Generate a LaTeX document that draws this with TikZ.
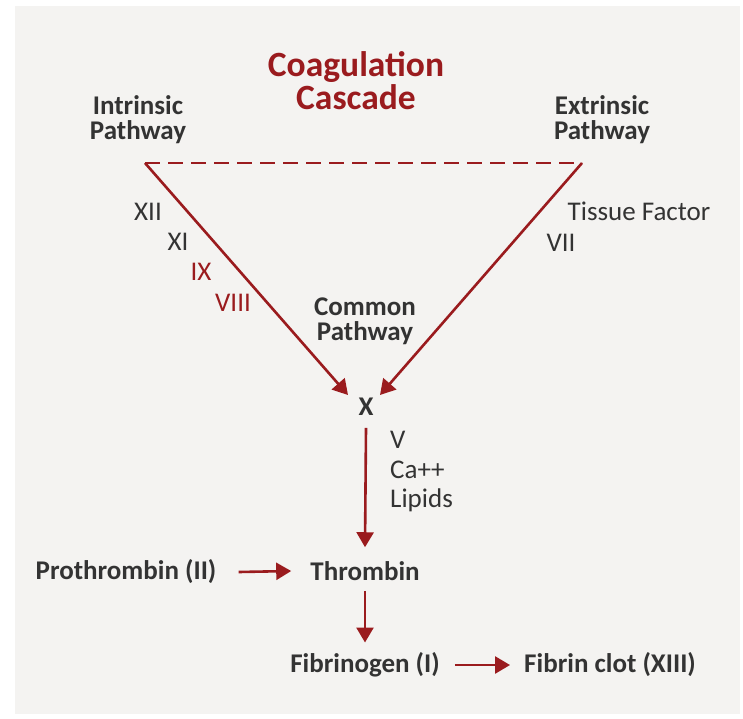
\documentclass[tikz,border=0pt]{standalone}
\usepackage{fontspec}
\setmainfont{Carlito}
\usetikzlibrary{arrows.meta}
\definecolor{cred}{HTML}{9A1B1E}
\definecolor{ctext}{HTML}{333333}
\definecolor{cbg}{HTML}{F4F3F1}
\tikzset{
  lbl/.style={text=ctext, font=\fontsize{27}{30}\selectfont, inner sep=0pt},
  blbl/.style={text=ctext, font=\bfseries\fontsize{27}{25}\selectfont, inner sep=0pt, align=center},
  rlbl/.style={text=cred, font=\fontsize{27}{30}\selectfont, inner sep=0pt},
  ttl/.style={text=cred, font=\bfseries\fontsize{35.5}{33}\selectfont, inner sep=0pt, align=center},
  arr/.style={draw=cred, line width=2.6pt, -{Triangle[length=15pt,width=17pt]}},
  dsh/.style={draw=cred, line width=2.6pt, dash pattern=on 15pt off 8pt}
}
\begin{document}
\begin{tikzpicture}[x=1pt,y=-1pt]
\useasboundingbox (0,0) rectangle (743,718);
\fill[white] (0,0) rectangle (743,718);
\fill[cbg] (15,6) rectangle (740,714);
% title
\node[ttl] (title) at (356,81) {Coagulation\\Cascade};
\node[blbl] (intr) at (138,120) {Intrinsic\\Pathway};
\node[blbl] (extr) at (602,120) {Extrinsic\\Pathway};
% triangle
\coordinate (tl) at (145,163);
\coordinate (tr) at (582,163);
\coordinate (tipL) at (348,395);
\coordinate (tipR) at (380,395);
\node[blbl] (x) at (366,407) {X};
\draw[dsh] (tl) -- (tr);
\draw[arr] (tl) -- (tipL);
\draw[arr] (tr) -- (tipR);
% labels
\node[lbl] (xii) at (148,212) {XII};
\node[lbl] (xi) at (178,242) {XI};
\node[rlbl] (ix) at (201,272) {IX};
\node[rlbl] (viii) at (233,303) {VIII};
\node[lbl] (tf) at (639,211) {Tissue Factor};
\node[lbl] (vii) at (561,243) {VII};
\node[blbl] (common) at (365,321) {Common\\Pathway};
% common
\node[lbl, anchor=west] (v) at (390,440) {V};
\node[lbl, anchor=west] (ca) at (390,470) {Ca++};
\node[lbl, anchor=west] (lip) at (390,500) {Lipids};
\node[blbl] (thr) at (365,571) {Thrombin};
\node[blbl] (pro) at (126,572) {Prothrombin (II)};
\node[blbl] (fgn) at (365,665) {Fibrinogen (I)};
\node[blbl] (fcl) at (610,665) {Fibrin clot (XIII)};
\draw[arr] ([yshift=-12pt]x.south) -- ([yshift=14pt]thr.north);
\draw[arr] ([xshift=22pt]pro.east) -- ([xshift=-19pt]thr.west);
\draw[arr] ([yshift=-10pt]thr.south) -- ([yshift=10pt]fgn.north);
\draw[arr] ([xshift=15pt]fgn.east) -- ([xshift=-14pt]fcl.west);
\end{tikzpicture}
\end{document}
